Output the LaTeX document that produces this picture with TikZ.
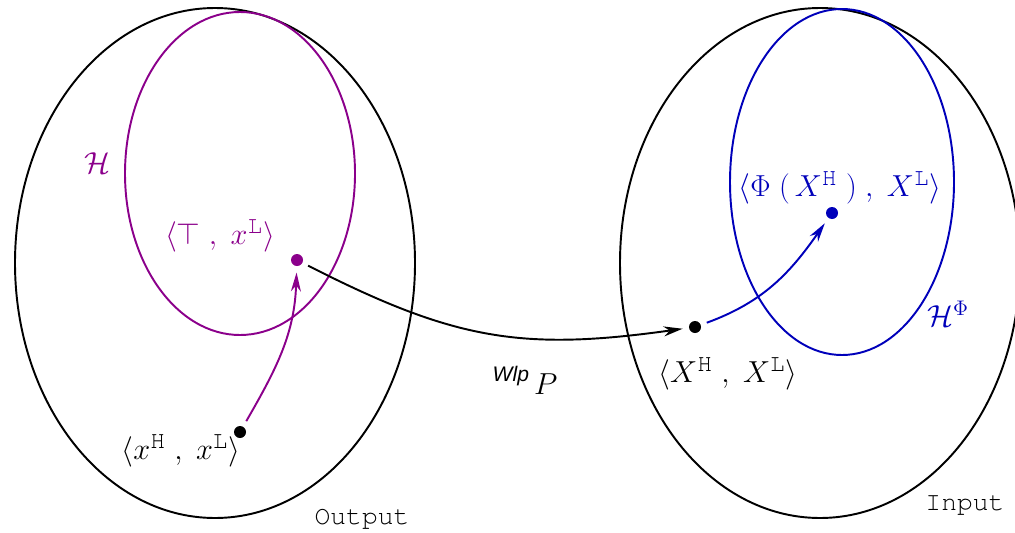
\documentclass[tikz,border=0pt]{standalone}
\usepackage{amsmath}
\usepackage[T1]{fontenc}
\usepackage{fontspec}
\setsansfont{Liberation Sans}
\usetikzlibrary{arrows.meta}
\definecolor{hPurple}{HTML}{8B008B}
\definecolor{hBlue}{HTML}{0000BA}
\newcommand{\courier}{\fontencoding{T1}\fontfamily{pcr}\selectfont}
\newcommand{\supcour}[1]{\text{\courier\fontsize{14}{14}\selectfont #1}}
\newcommand{\tagH}{\supcour{H}}
\newcommand{\tagL}{\supcour{L}}
\newcommand{\spcomma}{\;,\;}

\begin{document}
\begin{tikzpicture}[
    set/.style={draw, line width=1.1pt},
    dot/.style={circle, fill, inner sep=0pt, minimum size=0.24cm, outer sep=0.13cm},
    lbl/.style={font=\fontsize{17.5}{20}\selectfont, inner sep=0pt},
    setname/.style={font=\courier\fontsize{15}{18}\selectfont, inner sep=0pt},
    arrow/.style={-{Stealth[length=0.38cm, width=0.2cm, inset=0.12cm]}, line width=1.1pt}
]
    \useasboundingbox (0,0) rectangle (20.3,10.64);

    % Sets
    \draw[set] (4.3,5.38) ellipse [x radius=4.0, y radius=5.1];
    \draw[set, hPurple] (4.8,7.17) ellipse [x radius=2.3, y radius=3.23];
    \draw[set] (16.4,5.38) ellipse [x radius=4.0, y radius=5.1];
    \draw[set, hBlue] (16.84,7.0) ellipse [x radius=2.24, y radius=3.46];

    % States
    \node[dot] (low) at (4.8,2.0) {};
    \node[dot, hPurple] (top) at (5.94,5.44) {};
    \node[dot] (inp) at (13.9,4.1) {};
    \node[dot, hBlue] (phi) at (16.64,6.38) {};

    % Labels
    \node[lbl, hPurple] (hset) at (1.94,7.38) {$\mathcal{H}$};
    \node[lbl, hPurple] (toplbl) at (4.4,5.92) {$\langle\top\spcomma x^{\tagL}\rangle$};
    \node[lbl] (lowlbl) at (3.62,1.62) {$\langle x^{\tagH}\spcomma x^{\tagL}\rangle$};
    \node[lbl] (inplbl) at (14.56,3.16) {$\langle X^{\tagH}\spcomma X^{\tagL}\rangle$};
    \node[lbl, hBlue] (philbl) at (16.8,6.88) {$\langle\Phi\;(\,X^{\tagH}\;)\spcomma X^{\tagL}\rangle$};
    \node[lbl, hBlue] (hphi) at (18.96,4.36) {$\mathcal{H}^{\Phi}$};
    \node[lbl] (wlp) at (10.5,3.04) {\raisebox{0.26cm}{\sffamily\itshape\fontsize{12}{14}\selectfont Wlp}$\,P$};
    \node[setname] (outlbl) at (7.24,0.26) {Output};
    \node[setname] (inlbl) at (19.3,0.54) {Input};

    % Arrows
    \draw[arrow, hPurple] (low) to[out=60, in=-92] (top);
    \draw[arrow] (top) to[out=-27, in=188, looseness=1.1] (inp);
    \draw[arrow, hBlue] (inp) to[out=20, in=-125] (phi);
\end{tikzpicture}
\end{document}
